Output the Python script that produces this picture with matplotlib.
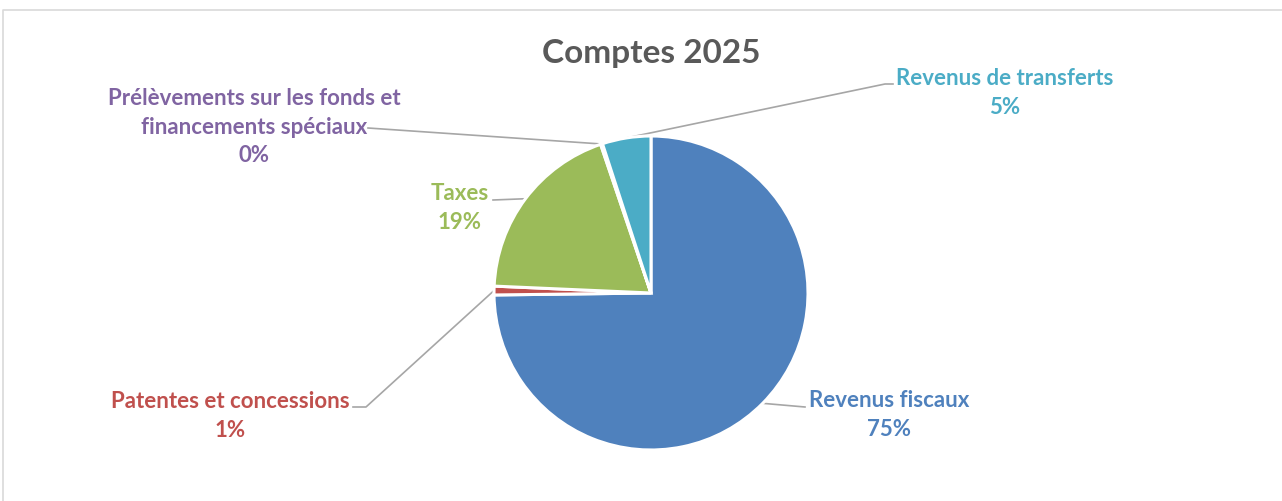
import numpy as np
import matplotlib.pyplot as plt

# data
categories = ["Revenus fiscaux", "Patentes et concessions", "Taxes",
              "Prélèvements sur les fonds et\nfinancements spéciaux",
              "Revenus de transferts"]
values = [74.8, 0.9, 19.1, 0.2, 5.0]
pct_labels = ["75%", "1%", "19%", "0%", "5%"]
colors = ["#4F81BD", "#C0504D", "#9BBB59", "#8064A2", "#4BACC6"]

W, H = 1282, 501
plt.rcParams['font.family'] = ['Lato', 'DejaVu Sans']

fig = plt.figure(figsize=(W / 100, H / 100), dpi=100)
ax = fig.add_axes([0, 0, 1, 1])
ax.set_xlim(0, W)
ax.set_ylim(H, 0)
ax.axis('off')

cx, cy, r = 651, 293, 157

# pie in a y-up axes on top of the same area
pax = fig.add_axes([0, 0, 1, 1])
pax.pie(values, colors=colors, startangle=90, counterclock=False,
        center=(cx, H - cy), radius=r,
        wedgeprops=dict(edgecolor='white', linewidth=2.2))
pax.set_xlim(0, W)
pax.set_ylim(0, H)
pax.set_aspect('auto')
pax.axis('off')

# chart frame
ax.plot([3, 3, W + 5], [H + 5, 10, 10], color='#D9D9D9', lw=1.2, clip_on=False)

ax.text(651, 53, "Comptes 2025", ha='center', va='center', fontsize=24,
        fontweight='bold', color='#595959')

# label layout: (text x, text y, elbow points after the edge point)
layout = [
    (889, 415, [(805, 407)]),
    (230, 416, [(366, 407), (353, 407)]),
    (460, 208, [(493, 200)]),
    (254, 127, [(368, 128)]),
    (1005, 93, [(885, 84), (893, 84)]),
]

cum = np.cumsum([0] + values)
total = sum(values)
for i, (name, pct, col) in enumerate(zip(categories, pct_labels, colors)):
    mid = (cum[i] + cum[i + 1]) / 2 / total * 360
    ex = cx + r * np.sin(np.radians(mid))
    ey = cy - r * np.cos(np.radians(mid))
    tx, ty, pts = layout[i]
    xs = [ex] + [p[0] for p in pts]
    ys = [ey] + [p[1] for p in pts]
    ax.plot(xs, ys, color='#A6A6A6', lw=1.2)
    ax.text(tx, ty, name + "\n" + pct, ha='center', va='center', fontsize=16,
            fontweight='bold', color=col, linespacing=1.45)

fig.savefig("out.png", dpi=100)
